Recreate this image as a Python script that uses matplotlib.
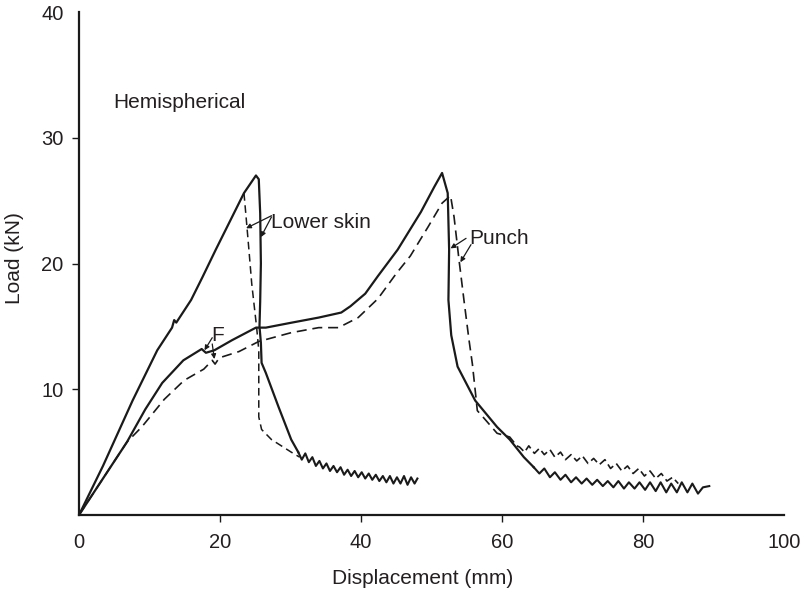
import matplotlib
matplotlib.use("Agg")
import matplotlib.pyplot as plt

# ---- data (mm, kN) ----

# lower skin, solid: rise, peak, drop
ls_solid_x = [0, 3.4, 7.6, 11.1, 13.2, 13.5, 13.8, 15.9, 17.5, 19.4, 23.4,
              25.1, 25.5, 25.7, 25.8, 25.7, 25.6, 25.8, 25.9, 26.5, 28.3,
              30.1, 31.1]
ls_solid_y = [0, 3.9, 9.1, 13.1, 14.9, 15.5, 15.3, 17.1, 18.9, 21.1, 25.6,
              27.0, 26.7, 24.0, 20.0, 17.0, 15.0, 13.7, 12.1, 11.3, 8.6,
              6.0, 5.0]
# lower skin tail (jagged)
ls_tail_x = [31.1, 31.6, 32.1, 32.6, 33.1, 33.6, 34.1, 34.6, 35.1, 35.6, 36.1,
             36.6, 37.1, 37.6, 38.1, 38.6, 39.1, 39.6, 40.1, 40.6, 41.1, 41.6,
             42.1, 42.6, 43.1, 43.6, 44.1, 44.6, 45.1, 45.6, 46.1, 46.6, 47.1,
             47.6, 48.0]
ls_tail_y = [5.0, 4.4, 4.9, 4.2, 4.6, 3.9, 4.3, 3.7, 4.1, 3.5, 3.9,
             3.4, 3.8, 3.2, 3.6, 3.1, 3.5, 3.0, 3.4, 2.9, 3.3, 2.8,
             3.2, 2.7, 3.1, 2.6, 3.1, 2.5, 3.0, 2.5, 3.1, 2.4, 3.0,
             2.5, 2.9]

# lower skin, dashed: leaves the solid curve before the peak
ls_dash_x = [23.4, 23.7, 24.1, 24.5, 25.2, 25.5, 25.5, 25.9, 27.3, 30.1, 31.3]
ls_dash_y = [25.6, 23.7, 21.1, 18.4, 14.9, 13.1, 7.8, 6.8, 6.0, 5.0, 4.6]

# punch, solid
p_solid_x = [0, 6.8, 9.4, 11.8, 14.8, 17.4, 18.0, 19.2, 21.7, 25.1, 26.5,
             30.2, 34.0, 37.2, 38.5, 40.6, 42.4, 45.2, 48.5, 50.4, 51.5,
             52.3, 52.5, 52.4, 52.8, 53.7, 56.2, 59.3, 61.1, 63.1, 64.5]
p_solid_y = [0, 5.8, 8.4, 10.5, 12.3, 13.2, 12.9, 13.1, 13.9, 14.9, 14.9,
             15.3, 15.7, 16.1, 16.6, 17.6, 19.0, 21.1, 24.1, 26.1, 27.2,
             25.6, 21.1, 17.1, 14.3, 11.8, 9.1, 7.0, 6.0, 4.6, 3.8]
p_tail_x = [64.5, 65.3, 66.0, 66.8, 67.5, 68.3, 69.0, 69.8, 70.5, 71.3, 72.0,
            72.8, 73.5, 74.3, 75.0, 75.8, 76.5, 77.3, 78.0, 78.8, 79.5, 80.3,
            81.0, 81.8, 82.5, 83.3, 84.0, 84.8, 85.5, 86.3, 87.0, 87.8, 88.5,
            89.4]
p_tail_y = [3.8, 3.3, 3.7, 3.0, 3.4, 2.8, 3.2, 2.6, 3.0, 2.5, 2.9,
            2.4, 2.8, 2.3, 2.7, 2.2, 2.7, 2.1, 2.6, 2.1, 2.6, 2.0,
            2.6, 1.9, 2.6, 1.8, 2.5, 1.8, 2.6, 1.8, 2.5, 1.7, 2.2,
            2.3]

# punch, dashed
p_dash_x = [0, 6.8, 8.9, 12.1, 14.9, 17.7, 18.9, 19.3, 19.9, 22.7, 25.5, 30.1,
            34.0, 36.8, 39.6, 42.4, 45.0, 47.0, 49.5, 51.5, 52.7,
            53.2, 53.9, 54.6, 55.3, 55.8, 56.2, 56.5, 57.6, 59.3, 61.1, 62.1]
p_dash_y = [0, 5.8, 7.0, 9.2, 10.7, 11.6, 12.3, 12.0, 12.5, 13.0, 13.8, 14.5,
            14.9, 14.9, 15.7, 17.2, 19.2, 20.6, 22.9, 24.8, 25.4,
            23.7, 20.3, 17.1, 14.0, 12.0, 9.9, 8.3, 7.6, 6.5, 6.2, 5.5]
p_dtail_x = [62.1, 62.5, 63.2, 63.8, 64.6, 65.3, 66.0, 66.8, 67.5, 68.3, 69.0,
             69.8, 70.6, 71.4, 72.2, 73.0, 73.8, 74.6, 75.4, 76.2, 77.0,
             77.8, 78.6, 79.4, 80.2, 81.0, 81.8, 82.6, 83.4, 84.2, 85.0]
p_dtail_y = [5.5, 5.4, 5.0, 5.5, 4.9, 5.3, 4.8, 5.2, 4.6, 5.0, 4.4,
             4.8, 4.3, 4.7, 4.1, 4.5, 4.0, 4.4, 3.7, 4.1, 3.5,
             3.9, 3.3, 3.7, 3.1, 3.5, 2.9, 3.3, 2.7, 3.0, 2.5]

x_ticks = [0, 20, 40, 60, 80, 100]
y_ticks = [10, 20, 30, 40]

ink = "#1a1a1a"
txt = "#231f20"

plt.rcParams['font.family'] = ['Liberation Sans', 'DejaVu Sans']

fig = plt.figure(figsize=(8.02, 5.95), dpi=100)
ax = fig.add_axes([79 / 802, 1 - 515 / 595, 705 / 802, 503 / 595])

# solid curves
ax.plot(ls_solid_x, ls_solid_y, color=ink, lw=1.6)
ax.plot(ls_tail_x, ls_tail_y, color=ink, lw=1.5)
ax.plot(p_solid_x, p_solid_y, color=ink, lw=1.6)
ax.plot(p_tail_x, p_tail_y, color=ink, lw=1.5)

# dashed curves
ax.plot(ls_dash_x, ls_dash_y, color=ink, lw=1.1, ls=(0, (5, 3)))
ax.plot(p_dash_x, p_dash_y, color=ink, lw=1.2, ls=(0, (6, 3.5)))
ax.plot(p_dtail_x, p_dtail_y, color=ink, lw=1.2, ls=(0, (5, 2.5)))

# labels and arrows
arr = dict(arrowstyle='-|>', lw=0.9, color=ink, mutation_scale=7,
           shrinkA=0, shrinkB=0)
ax.text(4.8, 32.8, "Hemispherical", fontsize=15, color=txt, va='center')

ax.text(27.3, 23.3, "Lower skin", fontsize=15, color=txt, va='center')
ax.annotate("", xy=(23.7, 22.8), xytext=(27.3, 23.8), arrowprops=arr)
ax.annotate("", xy=(25.8, 22.1), xytext=(27.3, 23.7), arrowprops=arr)

ax.text(55.3, 22.0, "Punch", fontsize=15, color=txt, va='center')
ax.annotate("", xy=(52.7, 21.2), xytext=(54.9, 22.0), arrowprops=arr)
ax.annotate("", xy=(54.1, 20.1), xytext=(55.6, 21.5), arrowprops=arr)

ax.text(19.7, 14.3, "F", fontsize=15, color=txt, ha='center', va='center')
ax.annotate("", xy=(17.8, 13.1), xytext=(18.9, 14.1), arrowprops=arr)
ax.annotate("", xy=(19.2, 12.4), xytext=(18.9, 13.6), arrowprops=arr)

# axes
ax.set_xlim(0, 100)
ax.set_ylim(0, 40)
ax.set_xticks(x_ticks)
ax.set_yticks(y_ticks)
for s in ["top", "right"]:
    ax.spines[s].set_visible(False)
for s in ["left", "bottom"]:
    ax.spines[s].set_linewidth(1.6)
    ax.spines[s].set_color(ink)
ax.tick_params(direction='out', length=5, width=1, colors=ink,
               labelcolor=txt, labelsize=14.5)
ax.tick_params(axis='x', pad=8)
ax.tick_params(axis='y', pad=6)
xt = ax.xaxis.get_major_ticks()
xt[0].tick1line.set_visible(False)
xt[-1].tick1line.set_visible(False)
ax.yaxis.get_major_ticks()[-1].tick1line.set_visible(False)

ax.set_xlabel("Displacement (mm)", fontsize=15, color=txt, va='center')
ax.xaxis.set_label_coords(0.488, -0.127)
ax.set_ylabel("Load (kN)", fontsize=15, color=txt, va='center')
ax.yaxis.set_label_coords(-0.092, 0.511)

fig.savefig("out.png", dpi=100)
